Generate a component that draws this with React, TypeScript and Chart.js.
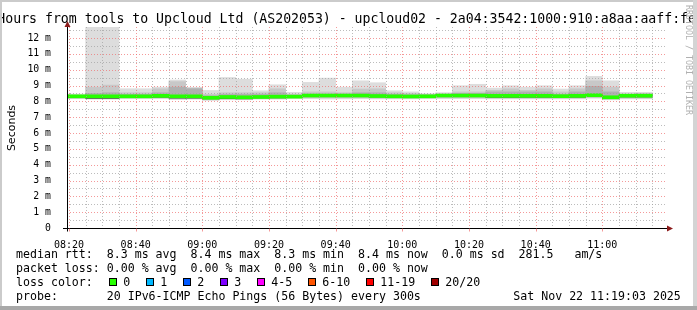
import { useEffect, useRef } from "react";
import { Chart, registerables } from "chart.js";

Chart.register(...registerables);

// ---- data (minutes after 08:00, end of each 5-minute step) ----
const intervalEnds = [20, 25, 30, 35, 40, 45, 50, 55, 60, 65, 70, 75, 80, 85, 90, 95, 100, 105, 110, 115, 120, 125, 130, 135, 140, 145, 150, 155, 160, 165, 170, 175, 180, 185, 190, 195];
// smoke layers in ms
const maxRtt = [8.46, 8.46, 12.7, 12.7, 8.8, 8.8, 8.9, 9.35, 8.87, 8.69, 9.51, 9.4, 8.67, 9.05, 8.57, 9.2, 9.47, 8.9, 9.3, 9.18, 8.67, 8.6, 8.48, 8.55, 8.99, 9.08, 8.84, 8.99, 8.9, 8.99, 8.78, 8.99, 9.58, 9.3, 8.57, 8.57];
const hiMid = [8.4, 8.4, 8.9, 9.03, 8.55, 8.55, 8.8, 9.25, 8.85, 8.45, 8.55, 8.55, 8.55, 8.8, 8.45, 8.6, 8.6, 8.55, 8.78, 8.8, 8.55, 8.5, 8.45, 8.45, 8.6, 8.6, 8.7, 8.8, 8.7, 8.8, 8.6, 8.8, 9.3, 8.9, 8.45, 8.5];
const hiCore = [8.38, 8.38, 8.5, 8.55, 8.45, 8.45, 8.55, 8.9, 8.8, 8.35, 8.45, 8.45, 8.45, 8.55, 8.4, 8.45, 8.45, 8.45, 8.55, 8.55, 8.45, 8.42, 8.4, 8.45, 8.5, 8.5, 8.6, 8.6, 8.6, 8.6, 8.45, 8.6, 8.95, 8.6, 8.42, 8.45];
const loCore = [8.25, 8.25, 8.22, 8.22, 8.25, 8.25, 8.25, 8.22, 8.22, 8.15, 8.2, 8.18, 8.22, 8.22, 8.25, 8.28, 8.28, 8.28, 8.28, 8.26, 8.25, 8.25, 8.26, 8.28, 8.28, 8.28, 8.26, 8.26, 8.26, 8.26, 8.25, 8.26, 8.3, 8.18, 8.26, 8.26];
const loMid = [8.2, 8.2, 8.18, 8.18, 8.22, 8.22, 8.22, 8.16, 8.18, 8.1, 8.14, 8.13, 8.18, 8.18, 8.22, 8.22, 8.22, 8.22, 8.22, 8.2, 8.2, 8.2, 8.22, 8.22, 8.22, 8.22, 8.2, 8.2, 8.2, 8.2, 8.2, 8.2, 8.24, 8.14, 8.2, 8.2];
const minRtt = [8.17, 8.17, 8.14, 8.14, 8.18, 8.18, 8.18, 8.12, 8.14, 8.06, 8.1, 8.1, 8.14, 8.14, 8.18, 8.18, 8.15, 8.16, 8.18, 8.16, 8.16, 8.16, 8.18, 8.18, 8.18, 8.18, 8.16, 8.16, 8.16, 8.16, 8.16, 8.16, 8.2, 8.1, 8.16, 8.16];
const hiInner = [8.32, 8.32, 8.32, 8.32, 8.32, 8.32, 8.35, 8.3, 8.31, 8.22, 8.27, 8.25, 8.28, 8.3, 8.3, 8.36, 8.36, 8.36, 8.36, 8.33, 8.32, 8.3, 8.32, 8.36, 8.36, 8.36, 8.34, 8.34, 8.34, 8.34, 8.32, 8.34, 8.38, 8.26, 8.35, 8.35];
const loInner = [8.28, 8.28, 8.18, 8.18, 8.24, 8.24, 8.26, 8.2, 8.2, 8.16, 8.17, 8.16, 8.22, 8.22, 8.26, 8.3, 8.3, 8.3, 8.3, 8.28, 8.27, 8.26, 8.28, 8.3, 8.3, 8.3, 8.25, 8.25, 8.26, 8.26, 8.26, 8.26, 8.32, 8.2, 8.28, 8.28];
const medianRtt = [8.32, 8.32, 8.32, 8.32, 8.32, 8.32, 8.35, 8.32, 8.32, 8.23, 8.28, 8.26, 8.28, 8.3, 8.3, 8.37, 8.37, 8.37, 8.37, 8.34, 8.32, 8.31, 8.32, 8.37, 8.37, 8.37, 8.35, 8.35, 8.35, 8.35, 8.33, 8.35, 8.39, 8.26, 8.36, 8.36];

const xTickMinutes = [20, 40, 60, 80, 100, 120, 140, 160, 180];
const yTickValues = [0, 1, 2, 3, 4, 5, 6, 7, 8, 9, 10, 11, 12];

const lossLabels = ["0", "1", "2", "3", "4-5", "6-10", "11-19", "20/20"];
const lossColors = ["#26ff00", "#00b8ff", "#0059ff", "#7e00ff", "#ff00ff", "#ff5500", "#ff0000", "#a00000"];

const titleText = "Hours from tools to Upcloud Ltd (AS202053) - upcloud02 - 2a04:3542:1000:910:a8aa:aaff:fe";
const legendRows = [
  "median rtt:  8.3 ms avg  8.4 ms max  8.3 ms min  8.4 ms now  0.0 ms sd  281.5   am/s",
  "packet loss: 0.00 % avg  0.00 % max  0.00 % min  0.00 % now",
  "loss color:",
  "probe:       20 IPv6-ICMP Echo Pings (56 Bytes) every 300s",
];
const dateText = "Sat Nov 22 11:19:03 2025";

const X_MIN = 19.4;
const X_MAX = 199.4;
const Y_MAX = 12.7;
const STEP = 5;
const MEDIAN_HALF = 0.095;

const MONO = '"DejaVu Sans Mono", monospace';
const MAJOR_GRID = "rgba(240,110,110,0.7)";
const MINOR_GRID = "rgba(160,160,160,0.7)";

function fmtTime(m: number) {
  const h = Math.floor(m / 60) + 8;
  const mm = m % 60;
  return `${String(h).padStart(2, "0")}:${String(mm).padStart(2, "0")}`;
}

function smoke(lo: number[], hi: number[], color: string, order: number) {
  return {
    type: "bar" as const,
    data: intervalEnds.map((t, i) => ({ x: t - STEP / 2, y: [lo[i], hi[i]] })),
    backgroundColor: color,
    borderWidth: 0,
    grouped: false,
    barPercentage: 1,
    categoryPercentage: 1,
    order,
  };
}

const gridPlugin = {
  id: "rrdGrid",
  afterDatasetsDraw(chart: any) {
    const { ctx, chartArea: a, scales } = chart;
    const x = scales.x;
    const y = scales.y;
    ctx.save();
    ctx.lineWidth = 1;
    ctx.setLineDash([1, 2]);
    for (let v = 0.5; v <= Y_MAX + 1e-6; v += 0.5) {
      const py = Math.round(y.getPixelForValue(v)) + 0.5;
      ctx.strokeStyle = Math.abs(v - Math.round(v)) < 1e-6 ? MAJOR_GRID : MINOR_GRID;
      ctx.beginPath();
      ctx.moveTo(a.left, py);
      ctx.lineTo(a.right, py);
      ctx.stroke();
    }
    for (let t = 20; t < X_MAX; t += 5) {
      const px = Math.round(x.getPixelForValue(t)) + 0.5;
      ctx.strokeStyle = t % 20 === 0 ? MAJOR_GRID : MINOR_GRID;
      ctx.beginPath();
      ctx.moveTo(px, a.top);
      ctx.lineTo(px, a.bottom);
      ctx.stroke();
    }
    ctx.restore();
  },
  afterDraw(chart: any) {
    const { ctx, chartArea: a, scales } = chart;
    const x = scales.x;
    ctx.save();
    ctx.setLineDash([]);
    ctx.lineWidth = 1;
    ctx.strokeStyle = "#000";
    const ax = Math.round(a.left) + 0.5;
    const ay = Math.round(a.bottom) + 0.5;
    ctx.beginPath();
    ctx.moveTo(ax, ay + 3);
    ctx.lineTo(ax, a.top - 4);
    ctx.stroke();
    ctx.beginPath();
    ctx.moveTo(a.left - 4, ay);
    ctx.lineTo(a.right + 2, ay);
    ctx.stroke();
    ctx.strokeStyle = MAJOR_GRID;
    for (const t of xTickMinutes) {
      const px = Math.round(x.getPixelForValue(t)) + 0.5;
      ctx.beginPath();
      ctx.moveTo(px, ay);
      ctx.lineTo(px, ay + 3);
      ctx.stroke();
    }
    ctx.fillStyle = "#8b1a1a";
    ctx.beginPath();
    ctx.moveTo(ax, a.top - 6);
    ctx.lineTo(ax - 3, a.top);
    ctx.lineTo(ax + 3, a.top);
    ctx.closePath();
    ctx.fill();
    ctx.beginPath();
    ctx.moveTo(a.right + 6, ay);
    ctx.lineTo(a.right, ay - 3);
    ctx.lineTo(a.right, ay + 3);
    ctx.closePath();
    ctx.fill();
    ctx.restore();
  },
};

function RrdChart() {
  const ref = useRef<HTMLCanvasElement | null>(null);
  useEffect(() => {
    if (!ref.current) return;
    const chart = new Chart(ref.current, {
      type: "bar",
      data: {
        datasets: [
          smoke(
            medianRtt.map((m) => m - MEDIAN_HALF),
            medianRtt.map((m) => m + MEDIAN_HALF),
            lossColors[0],
            0
          ),
          smoke(loInner, hiInner, "#5a5a5a", 1),
          smoke(loCore, hiCore, "#b0b0b0", 2),
          smoke(loMid, hiMid, "#c8c8c8", 3),
          smoke(minRtt, maxRtt, "#dddddd", 4),
        ] as any,
      },
      options: {
        responsive: false,
        animation: false,
        events: [],
        layout: { padding: { top: 27, right: 30, bottom: 62, left: 0 } },
        plugins: { legend: { display: false }, tooltip: { enabled: false }, title: { display: false } },
        scales: {
          x: {
            type: "linear",
            min: X_MIN,
            max: X_MAX,
            offset: false,
            grid: { display: false },
            border: { display: false },
            afterBuildTicks: (s: any) => {
              s.ticks = xTickMinutes.map((v) => ({ value: v }));
            },
            afterFit: (s: any) => {
              s.height = 20;
            },
            ticks: {
              autoSkip: false,
              maxRotation: 0,
              padding: 3,
              color: "#000",
              font: { family: MONO, size: 10 },
              callback: (v: any) => fmtTime(Number(v)),
            },
          },
          y: {
            type: "linear",
            min: 0,
            max: Y_MAX,
            grid: { display: false },
            border: { display: false },
            afterBuildTicks: (s: any) => {
              s.ticks = yTickValues.map((v) => ({ value: v }));
            },
            afterFit: (s: any) => {
              s.width = 67;
            },
            ticks: {
              padding: 8,
              color: "#000",
              font: { family: MONO, size: 9.8 },
              callback: (v: any) => (Number(v) === 0 ? "0" : `${v} m`),
            },
          },
        },
      } as any,
      plugins: [gridPlugin],
    });
    return () => chart.destroy();
  }, []);
  return (
    <canvas
      ref={ref}
      width={697}
      height={310}
      style={{ position: "absolute", left: 0, top: 0, width: 697, height: 310 }}
    />
  );
}

export default function App() {
  let bx = 109;
  const boxes = lossLabels.map((lab, i) => {
    const boxLeft = bx;
    const labelLeft = bx + 14.3;
    bx = labelLeft + lab.length * 7 + 15.7;
    return (
      <div key={lab}>
        <div
          style={{
            position: "absolute",
            left: boxLeft,
            top: 278,
            width: 8,
            height: 8,
            boxSizing: "border-box",
            border: "1px solid #000",
            background: lossColors[i],
          }}
        />
        <div style={{ position: "absolute", left: labelLeft, top: 275, lineHeight: "14px", whiteSpace: "pre" }}>{lab}</div>
      </div>
    );
  });
  return (
    <div
      style={{
        position: "fixed",
        left: 0,
        top: 0,
        width: 697,
        height: 310,
        overflow: "hidden",
        background: "#ffffff",
        fontFamily: MONO,
        color: "#000",
      }}
    >
      <RrdChart />
      <div
        style={{
          position: "absolute",
          left: -2.7,
          top: 10,
          fontSize: 13.2,
          lineHeight: "18px",
          whiteSpace: "pre",
        }}
      >
        {titleText}
      </div>
      <div
        style={{
          position: "absolute",
          left: 10.5,
          top: 128,
          transform: "translate(-50%, -50%) rotate(-90deg)",
          fontFamily: '"DejaVu Sans", sans-serif',
          fontSize: 11,
          whiteSpace: "pre",
        }}
      >
        Seconds
      </div>
      <div
        style={{
          position: "absolute",
          left: 689,
          top: 60,
          transform: "translate(-50%, -50%) rotate(90deg)",
          fontSize: 8.3,
          color: "#b0b0b0",
          whiteSpace: "pre",
        }}
      >
        RRDTOOL / TOBI OETIKER
      </div>
      <div style={{ position: "absolute", left: 16, top: 247, fontSize: 11.6 }}>
        {legendRows.map((r, i) => (
          <div key={i} style={{ height: 14, lineHeight: "14px", whiteSpace: "pre" }}>
            {r}
          </div>
        ))}
      </div>
      <div style={{ position: "absolute", left: 0, top: 0, fontSize: 11.6 }}>{boxes}</div>
      <div style={{ position: "absolute", left: 513.3, top: 289, fontSize: 11.6, lineHeight: "14px", whiteSpace: "pre" }}>
        {dateText}
      </div>
      <div style={{ position: "absolute", left: 0, top: 0, width: 697, height: 2, background: "#cbcbcb" }} />
      <div style={{ position: "absolute", left: 0, top: 0, width: 2, height: 310, background: "#cbcbcb" }} />
      <div style={{ position: "absolute", right: 0, top: 0, width: 4, height: 310, background: "#d4d4d4" }} />
      <div style={{ position: "absolute", left: 0, bottom: 0, width: 697, height: 4, background: "#a8a8a8" }} />
    </div>
  );
}
